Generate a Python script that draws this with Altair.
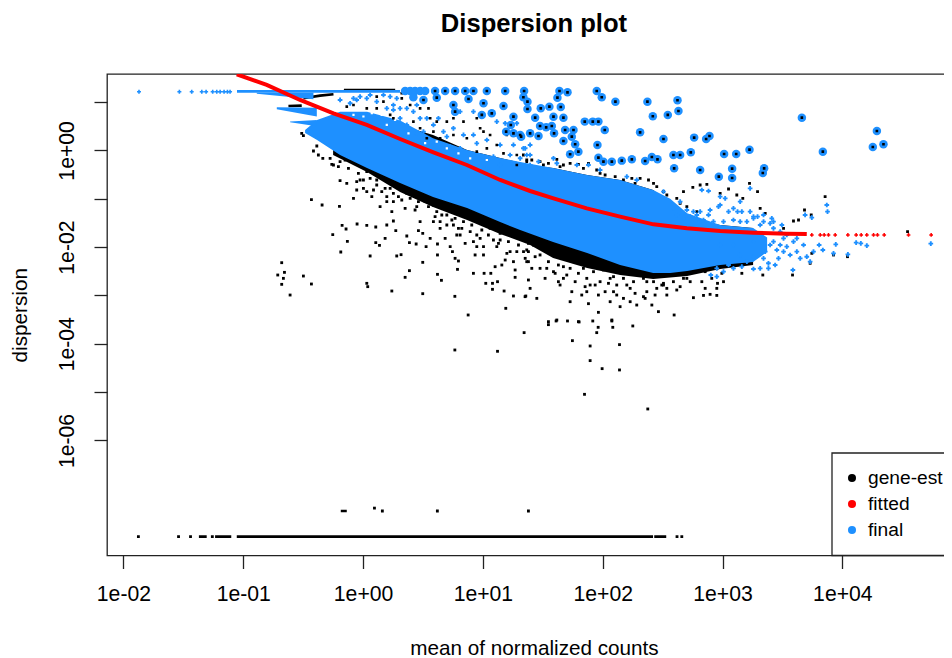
import altair as alt
import pandas as pd

FONT = "Liberation Sans"
BLUE = "#1e90ff"

# all positions are log10(mean count), log10(dispersion)
x_ticks = [0.01, 0.1, 1, 10, 100, 1000, 10000]
y_ticks = [10, 1, 0.1, 0.01, 0.001, 1e-4, 1e-5, 1e-6]

# dense band of black gene estimates
black_lx = [-.250,.033,.309,.584,.868,1.144,1.394,1.586,1.870,2.145,2.421,2.705,2.980,3.255]
black_top = [.525,.525,.525,.319,.008,-.157,-.300,-.364,-.509,-.612,-.819,-1.398,-1.543,-1.605]
black_bot = [-.095,-.447,-.861,-1.171,-1.440,-1.729,-1.957,-2.226,-2.433,-2.578,-2.660,-2.598,-2.453,-2.371]

# dense body of blue final estimates
blue_lx = [-.484,-.384,-.192,.033,.309,.584,.868,1.144,1.311,1.586,1.870,2.145,2.421,2.563,2.705,2.980,3.255,3.372]
blue_top = [.422,.629,.80,.80,.62,.25,.008,-.157,-.240,-.364,-.509,-.612,-.819,-1.00,-1.30,-1.543,-1.605,-1.80]
blue_bot = [.360,.215,-.095,-.364,-.674,-.964,-1.192,-1.481,-1.647,-1.895,-2.122,-2.371,-2.536,-2.536,-2.495,-2.371,-2.309,-2.10]

# blue fans at the low-count end: (group, lx, top, bottom)
blue_fans = [
    (1, -1.052, 1.25, 1.19), (1, .309, 1.25, 1.19),
    (2, -.887, 1.19, 1.17), (2, -.414, 1.19, 1.06),
    (3, -.720, .89, .85), (3, -.386, .88, .70),
    (4, -.609, .60, .58), (4, -.386, .629, .50),
]

# black streaks among the fans: (group, lx, ly)
black_streaks = [
    (1, -.498, 1.077), (1, -.359, 1.133), (1, -.247, 1.160),
    (2, -.623, .919), (2, -.512, .926),
    (3, -.160, 1.25), (3, .268, 1.25),
]

# bottom row of zero-dispersion genes, drawn as runs: (group, lx)
bottom_runs = [(1, -1.37), (1, -1.305), (2, -1.235), (2, -1.10), (3, -1.054), (3, 2.42), (4, 2.43), (4, 2.53),
               (5, -.186), (5, -.136)]
bottom_ly = [-7.99, -7.99, -7.99, -7.99, -7.99, -7.99, -7.99, -7.99, -7.46, -7.46]

outliers = [
 (1.344,1.229),(1.338,1.098),(1.372,1.008),(1.372,.857),(1.483,.870),(1.555,.905),(1.650,.898),(1.622,1.091),
 (1.639,1.229),(1.706,1.201),(1.950,1.229),(1.992,1.098),(2.106,1.008),(2.373,1.008),(2.624,1.036),(2.632,.815),
 (2.418,.705),(2.543,.733),(3.662,.677),(4.288,.401),(4.343,.126),(4.254,.070),(3.837,-.026),(2.312,.374),
 (2.507,.236),(2.763,.264),(2.891,.298),(2.863,.236),(2.017,.422),(1.850,.595),(1.917,.595),(1.964,.595),
 (1.672,.677),(1.589,.698),(1.436,.677),(1.394,.353),(1.464,.298),(1.319,.284),(1.477,.505),(1.528,.477),
 (1.575,.505),(1.594,.353),(1.686,.422),(1.756,.422),(1.742,.284),(1.672,.195),(1.770,.126),(1.797,-.026),
 (1.728,-.081),(1.956,.112),(1.964,-.150),(2.006,-.233),(2.076,-.233),(2.159,-.212),(2.243,-.185),(2.354,-.219),
 (2.410,-.136),(2.457,-.185),(2.590,-.095),(2.646,-.095),(2.735,-.040),(3.013,-.074),(3.114,-.074),(3.225,.015),
 (2.596,-.371),(2.813,-.405),(2.969,-.543),(3.080,-.378),(3.080,-.571),(3.347,-.371),(3.336,-.467),
 (.601,1.229),(.685,1.229),(.768,1.229),(.852,1.229),(.921,1.229),(1.033,1.229),(1.186,1.229),(.504,1.043),
 (.615,1.091),(.754,.939),(.880,1.063),(1.005,.974),(1.172,.919),(1.074,.767),(.991,.733),(.768,.801),
 (1.255,.698),(1.233,.526),(1.194,.388),(1.311,.319),(1.255,.353),
]
rings_only = [(.351,1.229),(.393,1.229),(.434,1.229),(.476,1.229),(.518,1.229),(.420,1.10)]

blue_top_row_lx = [-1.870,-1.533,-1.430,-1.346,-1.310,-1.255,-1.221,-1.193,-1.160,-1.132,-1.110]
blue_top_row_ly = 1.214

blue_points = [
 (2.883,-.840),(2.827,-.819),(2.980,-.957),(3.022,-.992),(3.147,-1.061),(3.230,-.785),(3.091,-1.199),(2.966,-1.164),
 (3.125,-1.267),(3.292,-1.371),(3.342,-1.336),(3.411,-1.406),(3.495,-1.543),(3.689,-1.336),(3.745,-1.392),(3.870,-1.130),
 (3.876,-1.267),(3.945,-1.943),(4.115,-1.909),(4.154,-1.923),(4.204,-1.971),(4.046,-2.150),(3.926,-2.130),(3.837,-2.061),
 (3.806,-1.957),(3.759,-2.095),(3.703,-2.199),(3.731,-2.302),(3.648,-2.233),(3.587,-2.474),(3.439,-2.371),(3.383,-2.336),
 (3.314,-2.440),(3.258,-2.454),(3.161,-2.405),(3.050,-2.371),(2.952,-2.612),(2.902,-2.578),(4.738,-1.930),(3.592,-1.888),
 (3.536,-1.992),(3.481,-1.957),(3.467,-2.233),(3.620,-2.095),(3.509,-1.819),(3.425,-1.888),(3.356,-2.095),(3.258,-2.199),
 (3.147,-2.164),(3.091,-1.957),(2.980,-1.957),(2.896,-1.819),(3.036,-1.612),(3.203,-1.474),(2.813,-1.474),(2.757,-1.267),
 (2.883,-1.336),(3.314,-1.543),(3.425,-1.612),(3.230,-1.267),(3.133,-1.681),(3.258,-1.888),
 (.031,1.077),(-.053,1.043),(.170,1.146),(.114,1.008),(.253,.939),(.198,.870),(.309,.870),(.420,.801),(.309,.664),
 (.365,.526),(.476,.664),(.504,.388),(.587,.181),(.671,.388),(.754,.457),(.838,.319),(.921,.319),(.949,.146),
 (1.033,.215),(1.144,.112),(1.255,.112),(1.353,.043),(1.227,-.095),(1.311,-.164),(1.088,-.130),(1.005,-.164),
 (.921,-.199),(.810,.043),(.727,.077),(.629,.664),(.810,.801),(.921,.801),(1.116,.595),(1.186,.560),(1.366,-.095),
 (1.144,-.302),(1.033,-.371),(1.394,-.302),(1.394,.112),(1.283,.560),
 (1.338,.043),(1.394,-.095),(1.464,-.233),(1.589,-.164),(1.617,-.267),(1.784,-.302),(1.881,-.302),(1.978,-.405),
 (2.201,-.543),(2.284,-.612),(2.410,-.888),(2.507,-.854),
 (2.590,-1.199),(2.618,-1.336),(2.674,-1.406),(2.730,-1.371),(2.785,-1.336),(2.841,-1.440),(2.924,-1.474),(3.008,-1.474),
 (3.091,-1.440),(3.147,-1.474),(3.258,-1.406),(3.342,-1.474),(3.397,-1.509),
 (-.192,1.043),(-.108,.974),(-.025,1.112),(.059,1.146),(-.080,1.077),(.226,1.112),(.281,1.077),(.253,.836),(.365,.870),
 (.448,.939),(.532,.664),(.587,.526),(.699,.284),(.448,.353),
 (2.646,-1.061),(2.702,-1.233),(2.813,-1.267),(2.896,-1.233),(2.980,-1.130),(3.050,-1.267),(3.161,-1.267),(3.258,-1.371),
 (3.425,-1.474),(3.481,-1.681),(3.536,-1.750),(3.620,-1.819),(3.509,-2.095),(3.564,-2.164),(3.676,-1.957),(3.397,-1.957),
 (3.342,-2.233),(3.203,-2.302),(3.091,-2.440),(3.008,-2.509),(2.952,-2.440),(3.453,-2.061),(3.383,-2.440),
]

black_points = [
 (3.225,-.681),(3.292,-.854),(3.856,-.957),(3.684,-1.233),(3.740,-1.336),(3.634,-1.440),(3.592,-1.461),(4.544,-1.681),
 (3.050,-.799),(2.869,-.702),(2.813,-.716),(2.752,-.764),(2.674,-.854),(2.980,-.888),(3.119,-.923),(3.169,-.992),
 (3.314,-1.199),(3.356,-1.302),(3.509,-1.612),(3.230,-2.302),(3.091,-2.371),(3.161,-2.543),(3.336,-2.578),(3.584,-2.578),
 (3.731,-2.336),(3.745,-2.130),(3.926,-2.164),(4.043,-2.199),(2.952,-3.000),(2.896,-2.978),(2.855,-2.854),(2.757,-3.047),
 (3.008,-2.716),(2.952,-2.854),(2.702,-2.647),(2.618,-2.888),(2.507,-2.785),(2.465,-3.336),(2.596,-3.405),(2.340,-3.026),
 (2.284,-3.199),(2.145,-3.233),(2.076,-3.509),(1.964,-3.350),(1.881,-3.171),(1.797,-3.543),(1.728,-3.130),(1.617,-3.509),
 (1.547,-3.543),(1.450,-3.061),(1.352,-3.026),(1.394,-2.854),(1.644,-2.785),(1.867,-2.923),(2.090,-2.923),(2.201,-2.785),
 (2.368,-2.923),(2.535,-2.854),(1.589,-2.509),(1.477,-2.440),(1.672,-2.647),(1.895,-2.785),(2.062,-2.647),(2.145,-2.440),
 (2.368,-2.716),(2.841,-3.000),(2.958,-2.750),
 (1.547,-3.605),(1.611,-3.529),(1.706,-3.529),(1.803,-3.549),(1.917,-3.529),(2.076,-3.529),(1.962,-3.660),(2.084,-3.660),
 (2.251,-3.632),(1.344,-3.770),(1.950,-3.770),(1.747,-3.936),(1.895,-4.046),(2.140,-4.018),(1.895,-4.349),(1.995,-4.515),
 (2.140,-4.542),(1.848,-5.046),(2.376,-5.349),(.766,-4.129),(1.122,-4.156),
 (-.679,-2.323),(-.656,-2.523),(-.712,-2.578),(-.665,-2.647),(-.679,-2.771),(-.609,-2.992),(-.498,-2.599),(-.431,-2.764),
 (-.431,-1.019),(-.342,-1.130),(-.197,-1.157),(-.253,-1.743),(-.186,-2.102),(-.175,-1.550),(-.142,-1.626),(-.131,-1.881),
 (-.050,-1.523),(.031,-1.550),(.106,-1.585),(.059,-2.185),(.106,-1.909),(.137,-1.964),(.184,-1.819),(.198,-1.543),
 (.253,-1.461),(.273,-1.661),(.281,-2.185),(.317,-2.157),(.365,-1.771),(.387,-1.909),(.443,-1.937),(.462,-1.661),
 (.498,-1.716),(.526,-1.992),(.560,-1.819),(.621,-1.937),(.685,-1.819),(.727,-1.992),(.621,-2.164),(.746,-2.095),
 (.768,-2.233),(.796,-2.288),(.788,-2.461),(.498,-2.316),(.387,-2.488),(.351,-2.626),(.031,-2.750),(.039,-2.819),
 (.240,-2.909),(.498,-2.964),(.621,-2.564),(.654,-2.688),(.766,-3.019),(.921,-2.543),(1.010,-2.543),(1.066,-2.543),
 (1.024,-2.750),(1.080,-2.750),(1.122,-2.716),(1.080,-2.874),(1.177,-2.909),(1.255,-3.012),(1.191,-3.267),(.877,-3.405),
 (1.358,-3.012),(1.269,-2.626),(1.102,-2.406),(1.158,-2.371),(1.269,-2.474),(1.380,-2.681),(1.380,-2.302),(1.255,-2.302),
 (-.192,-.626),(-.136,-.681),(-.080,-.992),(-.053,-.819),(.073,-.957),(.142,-1.164),(.240,-1.267),(.351,-1.199),
 (.476,-1.474),(.587,-1.474),(.699,-1.543),(.810,-1.750),(.921,-1.888),(1.005,-1.992),(1.116,-1.992),(1.200,-2.130),
 (.852,-1.923),(.935,-2.164),(1.005,-2.164),(-.053,-.647),(.031,-.854),(.198,-1.061),(.643,-1.612),(1.227,-2.095),(1.339,-2.095),
 (-.386,.091),(-.414,-.012),(-.373,-.095),(-.336,-.164),(-.275,-.164),(-.261,-.288),(-.206,-.337),(-.150,-.199),(-.512,.353),(-.498,.305),
 (-1.875,-7.99),(-1.54,-7.99),(-1.44,-7.99),(-1.258,-7.99),(2.62,-7.99),(2.66,-7.99),
 (.161,-7.46),(.62,-7.46),(1.38,-7.46),(.095,-7.40),
 # upper fringe of the cloud
 (1.338,-.095),(1.408,-.199),(1.477,-.233),(1.547,-.267),(1.617,-.185),(1.672,-.302),(1.728,-.267),(1.797,-.288),
 (1.881,-.267),(1.950,-.405),(2.020,-.509),(2.104,-.543),(2.173,-.612),(2.243,-.578),(2.312,-.578),(2.382,-.612),
 (2.451,-.750),(2.507,-.854),(2.618,-.992),(2.702,-1.164),(2.785,-1.267),
 (1.366,-.199),(1.505,-.302),(1.644,-.337),(1.839,-.371),(1.978,-.474),(2.145,-.681),(2.270,-.681),(2.424,-.681),(2.535,-.923),(2.646,-1.095),
 # lower fringe of the cloud
 (-.247,-.302),(-.192,-.233),(-.122,-.371),(-.039,-.474),(.003,-.612),(.059,-.578),(.114,-.716),(.184,-.785),(.253,-.888),
 (.323,-.819),(.393,-.992),(.462,-1.061),(.546,-1.164),(.615,-1.267),(.699,-1.336),(.768,-1.406),(.838,-1.474),(.907,-1.543),
 (.991,-1.647),(1.060,-1.612),(1.144,-1.716),(1.241,-1.750),(1.325,-1.819),(1.380,-1.923),(.198,-.957),(.323,-1.026),
 (.434,-1.233),(.587,-1.130),(.657,-1.336),(.796,-1.612),(.949,-1.750),(1.088,-1.854),(1.283,-2.095),(1.144,-1.854),
 (.087,-.819),(.003,-.785),(.253,-1.061),(.754,-1.543),
 (1.338,-1.819),(1.422,-1.957),(1.505,-1.992),(1.589,-2.130),(1.672,-2.233),(1.756,-2.302),(1.839,-2.440),(1.923,-2.509),
 (2.006,-2.474),(2.090,-2.612),(2.173,-2.647),(2.257,-2.716),(2.340,-2.647),(2.424,-2.716),(2.507,-2.750),(2.590,-2.716),
 (2.674,-2.647),(2.757,-2.509),(1.477,-2.164),(1.630,-2.371),(1.728,-2.440),(1.867,-2.647),(1.978,-2.716),(2.117,-2.785),
 (2.229,-2.854),(1.672,-2.406),(1.380,-2.095),(1.547,-2.302),(1.797,-2.543),(2.048,-2.750),(2.451,-2.854),(2.855,-2.509),(2.952,-2.440),
 (1.366,-2.302),(1.436,-2.199),(1.533,-2.440),(1.603,-2.543),(1.700,-2.578),(1.770,-2.716),(1.853,-2.819),(1.937,-2.785),
 (2.020,-2.923),(2.117,-2.992),(2.173,-3.061),(2.270,-2.957),(2.354,-3.061),(2.437,-2.992),(2.535,-2.992),(2.646,-2.819),
 (2.730,-2.716),(2.827,-2.716),(2.910,-2.647),(2.994,-2.543),(1.408,-2.440),(1.519,-2.647),(1.630,-2.716),(1.742,-2.923),
 (1.825,-2.992),(1.964,-2.992),(2.062,-3.130),(2.229,-3.130),(2.410,-3.199),(2.493,-2.785),
 (-.025,-.612),(.031,-.440),(.114,-.612),(.156,-.854),(.226,-.785),(.295,-.957),(.365,-.888),(.448,-1.164),(.518,-1.061),
 (.601,-1.371),(.671,-1.199),(.741,-1.440),(.824,-1.612),(.894,-1.681),(.977,-1.819),(1.046,-1.750),(1.130,-1.923),
 (1.213,-1.888),(1.297,-1.957),(1.366,-2.061),(.643,-1.474),(.782,-1.750),(.949,-1.992),(1.186,-2.268),(1.353,-2.233),
]

# black estimates showing through the speckled upper part of the blue cloud
black_over = [
 (-.136,.905),(-.080,.939),(.114,1.112),(.170,1.008),(.031,.870),(.114,.870),(.226,.733),(.323,1.181),(.323,1.077),
 (.393,.939),(.476,.870),(.546,.870),(.420,.595),(.476,.457),(.560,.664),(.615,.595),(.699,.595),(.754,.664),(.838,.595),
 (.949,.664),(1.005,.388),(1.060,.319),(.866,.250),(.754,.319),(.643,.250),(.532,.250),(1.116,.112),(1.172,-.061),
 (1.283,-.095),(1.366,-.233),(1.283,-.302),(.949,-.026),(1.033,.043),(1.199,.319),(.977,.457),(.587,.388),(.253,.664),
]
# gaps in the speckled part of the cloud
gaps = [(-.080,.736),(.003,.701),(.073,.770),(.156,.733),(.267,.629),(.198,.526),(.351,.595),(.434,.491),(.379,.353),
        (.518,.150),(.615,.181),(.699,.043),(.796,-.061),(.894,-.164),(1.033,-.199)]

fit_lx = [-1.054,-.804,-.526,-.247,.031,.309,.587,.866,1.144,1.394,1.589,1.867,2.145,2.423,2.702,2.980,3.258,3.536,3.703]
fit_ly = [1.574,1.353,1.043,.767,.526,.236,-.040,-.302,-.612,-.840,-.992,-1.199,-1.371,-1.530,-1.612,-1.667,-1.702,-1.723,-1.730]
fit_tail_lx = [3.745,3.815,3.848,3.884,3.940,4.046,4.115,4.157,4.204,4.260,4.293,4.349,4.552,4.741]
fit_tail_ly = -1.75

legend_labels = ["gene-est", "fitted", "final"]
legend_colors = ["black", "red", BLUE]

def pts(pairs):
    return pd.DataFrame({"x": [10 ** a for a, _ in pairs], "y": [10 ** b for _, b in pairs]})

W, H = 854, 481.5
xs = alt.Scale(type="log", domain=[10 ** -2.137, 10 ** 4.99], nice=False)
ys = alt.Scale(type="log", domain=[10 ** -8.38, 10 ** 1.58], nice=False)

axis_common = dict(domain=False, grid=False, tickColor="#222", tickWidth=1.3, tickSize=13,
                   labelFont=FONT, labelFontSize=21.2, labelColor="black", labelOverlap=False,
                   labelFlush=False, labelBound=False, titleFont=FONT, titleFontSize=20.7,
                   titleFontWeight="normal", titleColor="black")
exp = "round(abs(log(datum.value)/LN10))"
lab = "'1e' + (datum.value<1 ? '-0' : '+0') + " + exp

X = alt.X("x:Q", scale=xs, title="mean of normalized counts",
          axis=alt.Axis(values=x_ticks, labelExpr=lab, labelPadding=15, titlePadding=34, **axis_common))
Y = alt.Y("y:Q", scale=ys, title="dispersion",
          axis=alt.Axis(values=y_ticks, labelAngle=270, labelAlign="center", labelBaseline="bottom",
                        labelExpr="(" + exp + "%2==0 && datum.value<=1) ? (" + lab + ") : ''",
                        labelPadding=17, titlePadding=26, **axis_common))
Y2 = alt.Y2("y2:Q")

def area(lx, top, bot, color):
    d = pd.DataFrame({"x": [10 ** v for v in lx], "y": [10 ** v for v in top], "y2": [10 ** v for v in bot]})
    return alt.Chart(d).mark_area(color=color, clip=True, interpolate="linear").encode(x=X, y=Y, y2=Y2)

def dots(pairs, color, size, shape="square"):
    return alt.Chart(pts(pairs)).mark_point(filled=True, color=color, size=size, shape=shape, opacity=1,
                                            strokeWidth=0, clip=True).encode(x=X, y=Y)

fans_df = pd.DataFrame({"g": [f[0] for f in blue_fans], "x": [10 ** f[1] for f in blue_fans],
                        "y": [10 ** f[2] for f in blue_fans], "y2": [10 ** f[3] for f in blue_fans]})
fans = alt.Chart(fans_df).mark_area(color=BLUE, clip=True).encode(x=X, y=Y, y2=Y2, detail="g:N")

streak_df = pd.DataFrame({"g": [s[0] for s in black_streaks], "x": [10 ** s[1] for s in black_streaks],
                          "y": [10 ** s[2] for s in black_streaks]})
streaks = alt.Chart(streak_df).mark_line(color="black", strokeWidth=2.6, clip=True).encode(x=X, y=Y, detail="g:N")

runs_df = pd.DataFrame({"g": [r[0] for r in bottom_runs], "x": [10 ** r[1] for r in bottom_runs],
                        "y": [10 ** v for v in bottom_ly]})
runs = alt.Chart(runs_df).mark_line(color="black", strokeWidth=2.6, clip=True).encode(x=X, y=Y, detail="g:N")

fit_df = pd.DataFrame({"x": [10 ** v for v in fit_lx], "y": [10 ** v for v in fit_ly]})
fit = alt.Chart(fit_df).mark_line(color="red", strokeWidth=4, clip=True).encode(x=X, y=Y)

one = pd.DataFrame({"a": [0]})
leg_box = alt.Chart(one).mark_rect(fill="white", stroke="#222", strokeWidth=1.3).encode(
    x=alt.value(725), x2=alt.value(W + 10), y=alt.value(379), y2=alt.value(H))
legend_rows = []
for label, color, row_y in zip(legend_labels, legend_colors, [404, 430, 456]):
    src = pd.DataFrame({"label": [label]})
    legend_rows.append(alt.Chart(src).mark_point(filled=True, size=65, opacity=1, strokeWidth=0, color=color,
                                                 shape="circle").encode(x=alt.value(745), y=alt.value(row_y)))
    legend_rows.append(alt.Chart(src).mark_text(align="left", baseline="middle", font=FONT, fontSize=19.2,
                                                color="black").encode(x=alt.value(761), y=alt.value(row_y), text="label:N"))

chart = alt.layer(
    dots(black_points, "black", 8),
    area(black_lx, black_top, black_bot, "black"),
    streaks, runs,
    area(blue_lx, blue_top, blue_bot, BLUE),
    fans,
    dots(blue_points, BLUE, 22, "cross"),
    dots([(v, blue_top_row_ly) for v in blue_top_row_lx], BLUE, 16, "cross"),
    dots(gaps, "white", 5),
    dots(black_over, "black", 7),
    dots(outliers + rings_only, BLUE, 72, "circle"),
    dots(outliers, "black", 7),
    fit,
    dots([(v, fit_tail_ly) for v in fit_tail_lx], "red", 14, "cross"),
    leg_box, *legend_rows,
).properties(
    width=W, height=H,
    autosize=alt.AutoSizeParams(type="none"),
    padding={"left": 99, "top": 66, "right": -17, "bottom": 100},
    background="white",
    title=alt.TitleParams("Dispersion plot", font=FONT, fontSize=25.6, fontWeight="bold", color="black",
                          anchor="middle", offset=36),
).configure_view(stroke="#222", strokeWidth=1.3)

chart.save("out.html", embed_options={"renderer": "svg", "actions": False})
